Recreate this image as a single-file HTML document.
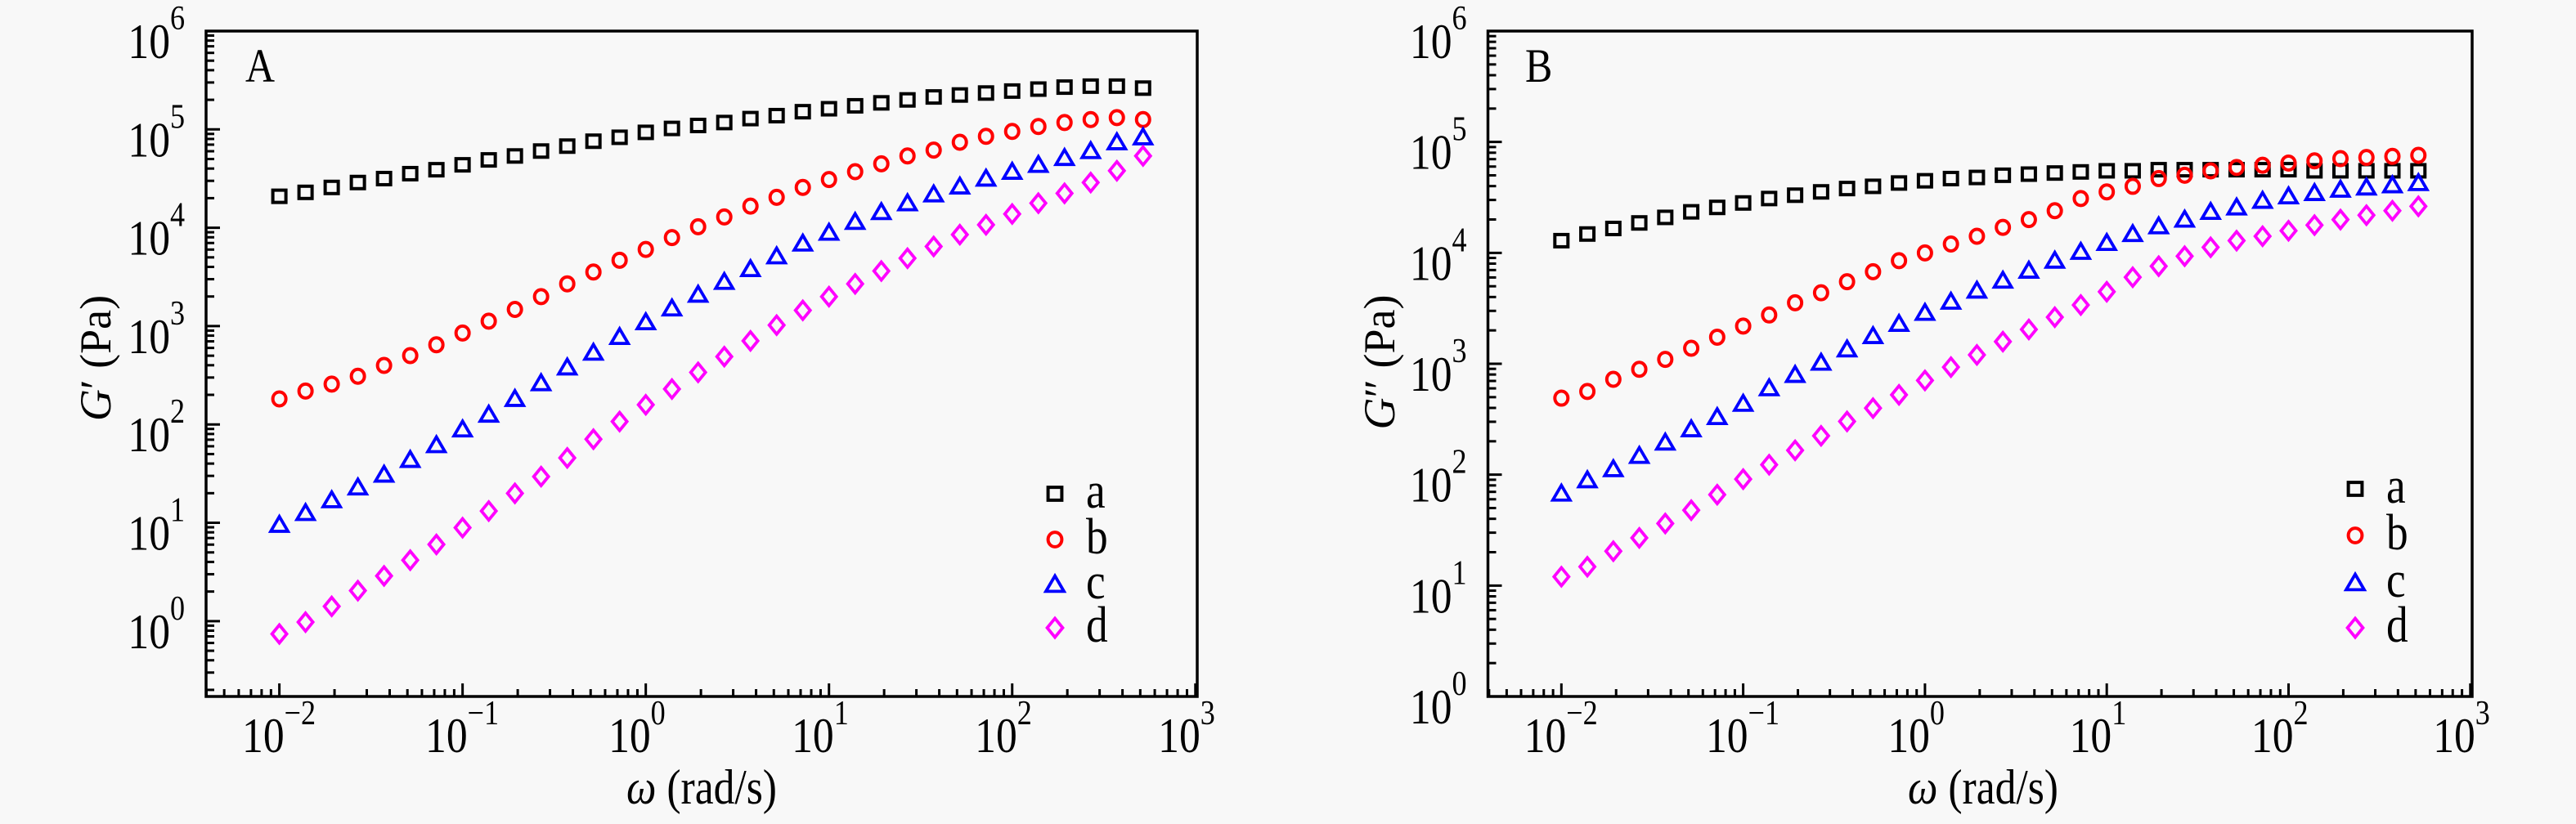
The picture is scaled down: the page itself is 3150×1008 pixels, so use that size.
<!DOCTYPE html>
<html><head><meta charset="utf-8"><title>G' and G'' vs frequency</title>
<style>
html,body{margin:0;padding:0;background:#f8f8f8;}
svg{display:block;}
svg text{font-family:"Liberation Serif","Times New Roman",serif;fill:#000;}
</style></head>
<body>
<svg id="fig" width="3150" height="1008" viewBox="0 0 3150 1008" xmlns="http://www.w3.org/2000/svg" font-family="Liberation Serif, Times New Roman, serif">
<rect x="0" y="0" width="3150" height="1008" fill="#f8f8f8"/>
</svg>
<script>
// Frequency points: log10(omega) = -2 + i/7, i=0..33
const omegaLog = [];
for (let i = 0; i < 34; i++) omegaLog.push(-2 + i / 7);

// Panel A: G' (log10 Pa)
const gA_a = [4.32,4.36,4.41,4.46,4.50,4.55,4.59,4.64,4.69,4.73,4.78,4.83,4.88,4.92,4.97,5.01,5.04,5.07,5.11,5.14,5.18,5.21,5.24,5.27,5.30,5.33,5.35,5.37,5.39,5.41,5.43,5.44,5.44,5.42];
const gA_b = [2.26,2.34,2.41,2.49,2.60,2.70,2.81,2.93,3.05,3.17,3.30,3.43,3.55,3.67,3.78,3.90,4.01,4.11,4.22,4.31,4.41,4.49,4.57,4.65,4.73,4.79,4.87,4.93,4.98,5.03,5.07,5.10,5.12,5.10];
const gA_c = [0.98,1.10,1.23,1.36,1.49,1.64,1.79,1.95,2.10,2.26,2.42,2.58,2.73,2.89,3.04,3.18,3.32,3.45,3.58,3.71,3.84,3.95,4.06,4.16,4.25,4.34,4.42,4.50,4.57,4.64,4.71,4.78,4.87,4.92];
const gA_d = [-0.13,-0.01,0.15,0.31,0.46,0.62,0.78,0.95,1.12,1.30,1.47,1.66,1.85,2.03,2.20,2.36,2.53,2.69,2.85,3.01,3.16,3.30,3.43,3.56,3.69,3.81,3.93,4.03,4.14,4.25,4.35,4.46,4.58,4.73];

// Panel B: G'' (log10 Pa)
const gB_a = [4.11,4.17,4.22,4.27,4.32,4.37,4.41,4.45,4.49,4.52,4.55,4.58,4.60,4.63,4.65,4.67,4.68,4.70,4.71,4.72,4.73,4.74,4.74,4.75,4.75,4.75,4.75,4.75,4.75,4.74,4.74,4.74,4.74,4.74];
const gB_b = [2.69,2.75,2.86,2.95,3.04,3.14,3.24,3.34,3.44,3.55,3.64,3.74,3.83,3.93,4.00,4.08,4.15,4.23,4.30,4.38,4.49,4.55,4.60,4.67,4.70,4.74,4.77,4.79,4.81,4.83,4.85,4.86,4.87,4.88];
const gB_c = [1.83,1.95,2.05,2.17,2.29,2.41,2.52,2.64,2.78,2.90,3.01,3.13,3.25,3.36,3.46,3.56,3.66,3.75,3.84,3.93,4.01,4.09,4.17,4.24,4.30,4.37,4.41,4.47,4.51,4.54,4.57,4.59,4.61,4.63];
const gB_d = [1.08,1.17,1.31,1.43,1.56,1.68,1.82,1.96,2.09,2.22,2.35,2.48,2.60,2.72,2.85,2.97,3.08,3.20,3.31,3.42,3.53,3.65,3.78,3.88,3.97,4.05,4.11,4.15,4.20,4.25,4.30,4.34,4.38,4.42];

const seriesNames = ["a","b","c","d"];
const xTickExps = [-2,-1,0,1,2,3];
const yTickExps = [0,1,2,3,4,5,6];

const NS = "http://www.w3.org/2000/svg";
const svg = document.getElementById("fig");
const SX = 0.86;
const FF = "Liberation Serif, Times New Roman, serif";
const COLORS = {a:"#000000", b:"#ff0000", c:"#0000ff", d:"#ff00ff"};

function mk(tag, attrs, parent) {
  const e = document.createElementNS(NS, tag);
  for (const k in attrs) e.setAttribute(k, attrs[k]);
  (parent || svg).appendChild(e);
  return e;
}

function drawMarker(g, type, cx, cy, big) {
  const s = big ? 1.05 : 1;
  const col = COLORS[type];
  let m;
  if (type === "a") {
    m = mk("rect", {x: cx - 8*s, y: cy - 7.5*s, width: 16*s, height: 15*s, fill: "none", stroke: col, "stroke-width": 4}, g);
  } else if (type === "b") {
    m = mk("ellipse", {cx: cx, cy: cy, rx: 8*s, ry: 8.5*s, fill: "none", stroke: col, "stroke-width": 4}, g);
  } else if (type === "c") {
    m = mk("polygon", {points: `${cx},${cy-10*s} ${cx+10.5*s},${cy+8*s} ${cx-10.5*s},${cy+8*s}`, fill: "none", stroke: col, "stroke-width": 3.8}, g);
  } else {
    m = mk("polygon", {points: `${cx},${cy-11*s} ${cx+9*s},${cy} ${cx},${cy+11*s} ${cx-9*s},${cy}`, fill: "none", stroke: col, "stroke-width": 3.8}, g);
  }
  return m;
}

function sText(parent, x, y, str, size, anchor, italic) {
  const t = mk("text", {transform: `translate(${x},${y}) scale(${SX},1)`, "font-size": size, "font-family": FF, "text-anchor": anchor || "start"}, parent);
  if (italic) t.setAttribute("font-style", "italic");
  t.textContent = str;
  return t;
}

function drawPanel(cfg) {
  const g = mk("g", {});
  
  
  const xs = v => cfg.x0 + (v - cfg.xmin) / (cfg.xmax - cfg.xmin) * (cfg.x1 - cfg.x0);
  const ys = v => cfg.y1 - (v - cfg.ymin) / (cfg.ymax - cfg.ymin) * (cfg.y1 - cfg.y0);

  const fr = mk("rect", {x: cfg.x0, y: cfg.y0, width: cfg.x1 - cfg.x0, height: cfg.y1 - cfg.y0, fill: "none", stroke: "#000", "stroke-width": 3.5}, g);
  
  

  const xt = mk("g", {}, g);
  
  
  for (let d = Math.floor(cfg.xmin); d <= Math.ceil(cfg.xmax); d++) {
    for (let k = 1; k <= 9; k++) {
      const lv = d + Math.log10(k);
      if (lv < cfg.xmin || lv > cfg.xmax) continue;
      const x = xs(lv);
      const len = k === 1 ? 16 : 9;
      mk("line", {x1: x, y1: cfg.y1, x2: x, y2: cfg.y1 - len, stroke: "#000", "stroke-width": 3}, xt);
    }
  }
  for (const e of xTickExps) {
    const x = xs(e);
    const lab = mk("g", {}, g);
    
    
    sText(lab, x + 6, 920, "10", 60, "end");
    sText(lab, x + 6, 886, e < 0 ? "\u2212" + (-e) : String(e), 42, "start");
  }

  const yt = mk("g", {}, g);
  
  
  for (let d = Math.floor(cfg.ymin); d <= Math.ceil(cfg.ymax); d++) {
    for (let k = 1; k <= 9; k++) {
      const lv = d + Math.log10(k);
      if (lv < cfg.ymin - 1e-6 || lv > cfg.ymax + 1e-6) continue;
      const y = ys(lv);
      const len = k === 1 ? 17 : 10;
      mk("line", {x1: cfg.x0, y1: y, x2: cfg.x0 + len, y2: y, stroke: "#000", "stroke-width": 3}, yt);
    }
  }
  for (const e of yTickExps) {
    const y = ys(e);
    const lab = mk("g", {}, g);
    
    
    sText(lab, cfg.x0 - 44, y + 33, "10", 60, "end");
    sText(lab, cfg.x0 - 44, y - 2, String(e), 42, "start");
  }

  const yTitle = mk("text", {transform: `translate(${cfg.yTitleX},${cfg.yTitleY}) rotate(-90)`, "font-size": 54, "font-family": FF, "text-anchor": "middle"}, g);
  
  
  const ti = document.createElementNS(NS, "tspan");
  ti.setAttribute("font-style", "italic");
  ti.textContent = "G";
  yTitle.appendChild(ti);
  const tr = document.createElementNS(NS, "tspan");
  tr.textContent = cfg.prime + " (Pa)";
  yTitle.appendChild(tr);

  const xTitle = mk("text", {transform: `translate(${cfg.xTitleX},983) scale(${SX},1)`, "font-size": 60, "font-family": FF, "text-anchor": "middle"}, g);
  
  
  const w = document.createElementNS(NS, "tspan");
  w.setAttribute("font-style", "italic");
  w.textContent = "\u03c9";
  xTitle.appendChild(w);
  const w2 = document.createElementNS(NS, "tspan");
  w2.textContent = " (rad/s)";
  xTitle.appendChild(w2);

  const pl = sText(g, cfg.letterX, 100, cfg.letter, 58, "start");
  
  

  cfg.series.forEach((vals, si) => {
    const type = seriesNames[si];
    const sg = mk("g", {}, g);
    
    
    vals.forEach((v, i) => {
      const m = drawMarker(sg, type, xs(omegaLog[i]), ys(v), false);
      
      
    });
  });

  const lg = mk("g", {}, g);
  
  
  seriesNames.forEach((nm, i) => {
    const y = cfg.legY[i];
    const e = mk("g", {}, lg);
    
    
    drawMarker(e, nm, cfg.legX, y, true);
    sText(e, cfg.legX + 38, y + 17, nm, 62, "start");
  });
}

drawPanel({name: "panel-a", x0: 252, x1: 1464, y0: 38, y1: 852, xmin: -2.40, xmax: 3.01, ymin: -0.766, ymax: 6,
  yTitleX: 135, yTitleY: 438, xTitleX: 858, prime: "\u2032", letter: "A", letterX: 300,
  series: [gA_a, gA_b, gA_c, gA_d], legX: 1290, legY: [604, 660, 715, 768]});
drawPanel({name: "panel-b", x0: 1819.5, x1: 3023, y0: 38, y1: 852, xmin: -2.404, xmax: 3.01, ymin: 0, ymax: 6,
  yTitleX: 1705, yTitleY: 443, xTitleX: 2425, prime: "\u2033", letter: "B", letterX: 1865,
  series: [gB_a, gB_b, gB_c, gB_d], legX: 2880, legY: [598, 655, 713, 768]});
</script>
</body></html>
